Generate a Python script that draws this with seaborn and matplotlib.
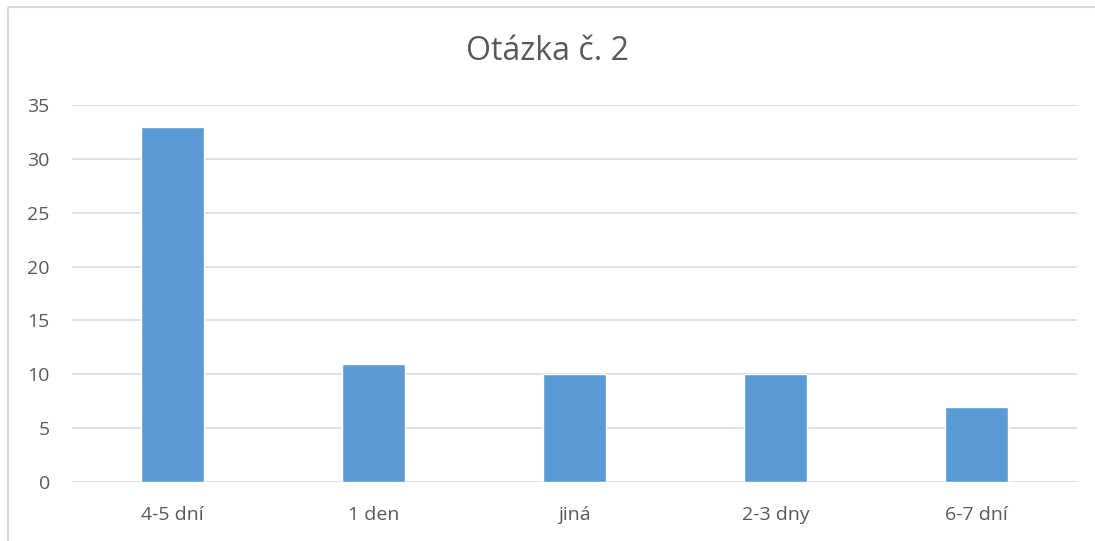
import matplotlib
matplotlib.use("Agg")
import matplotlib.pyplot as plt
import seaborn as sns
import pandas as pd
from matplotlib.lines import Line2D

# data
categories = ["4-5 dní", "1 den", "jiná", "2-3 dny", "6-7 dní"]
counts = [33, 11, 10, 10, 7]
yticks = [0, 5, 10, 15, 20, 25, 30, 35]

df = pd.DataFrame({"odpoved": categories, "pocet": counts})

sns.set_style("white")
plt.rcParams["font.family"] = ["Open Sans", "DejaVu Sans"]

fig = plt.figure(figsize=(10.95, 5.41), dpi=100)
ax = fig.add_axes([72 / 1095, 1 - 482 / 541, (1077 - 72) / 1095, (482 - 105) / 541])

sns.barplot(data=df, x="odpoved", y="pocet", color="#5B9BD5", width=0.31,
            saturation=1, ax=ax, zorder=3)

ax.set_ylim(0, 35)
ax.set_xlim(-0.5, len(categories) - 0.5)
ax.set_yticks(yticks)
ax.yaxis.grid(True, color="#D9D9D9", linewidth=1.1, zorder=0)
ax.set_axisbelow(True)
for s in ax.spines.values():
    s.set_visible(False)
ax.tick_params(axis="both", length=0, colors="#595959", labelsize=14)
ax.tick_params(axis="y", pad=16)
ax.tick_params(axis="x", pad=17)
ax.set_xlabel("")
ax.set_ylabel("")

fig.text(0.5, 1 - 51 / 541, "Otázka č. 2", ha="center", va="center",
         fontsize=23, color="#595959")

# chart border, only the top and left edges are in the picture
x0, y0 = 7.5 / 1095, 1 - 6.5 / 541
fig.lines.append(Line2D([x0, 1.05], [y0, y0], transform=fig.transFigure,
                        color="#D9D9D9", linewidth=1.5, solid_capstyle="butt"))
fig.lines.append(Line2D([x0, x0], [-0.05, y0], transform=fig.transFigure,
                        color="#D9D9D9", linewidth=1.5, solid_capstyle="butt"))

fig.savefig("out.png", dpi=100)
